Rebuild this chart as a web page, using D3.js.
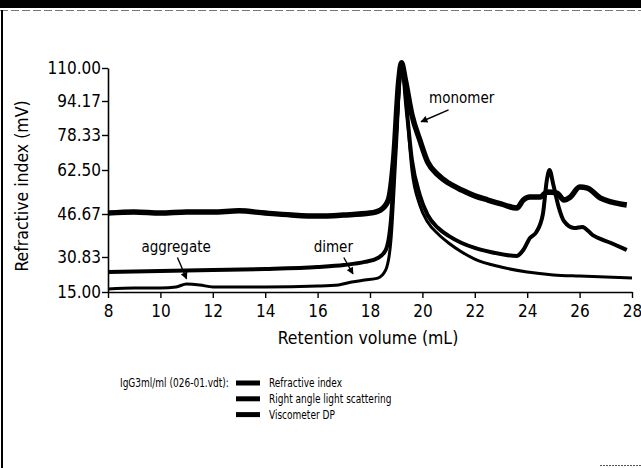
<!DOCTYPE html>
<html>
<head>
<meta charset="utf-8">
<script src="https://cdn.jsdelivr.net/npm/d3@7"></script>
<style>
  body { margin: 0; background: #fff; }
  svg { display: block; font-family: "DejaVu Sans Condensed", "Liberation Sans Narrow", "Open Sans", sans-serif; }
</style>
</head>
<body>
<svg id="drawing_region"></svg>
<script>
// retention volume (mL) / signal (mV)
const visc_x = [8, 9, 10, 11, 12, 13, 14, 15, 16, 17, 18, 18.4, 18.7, 18.9, 19.1, 19.2, 19.35, 19.6, 19.9, 20.2, 20.6, 21, 21.5, 22, 22.5, 23, 23.6, 23.85, 24.1, 24.5, 24.76, 25.14, 25.4, 25.65, 26.0, 26.3, 26.8, 27.2, 27.8];
const visc_y = [47.0, 47.4, 47.0, 47.4, 47.4, 47.8, 47.0, 46.3, 45.9, 46.3, 47.0, 48.1, 51.7, 67.0, 104.2, 112.5, 104.2, 87.7, 76.1, 66.1, 60.7, 57.8, 55.3, 53.2, 51.7, 50.3, 48.8, 51.7, 52.8, 52.8, 54.6, 54.2, 51.7, 52.8, 56.4, 56.0, 52.4, 51.0, 49.9];

const rals_x = [8, 10, 12, 14, 16, 17, 17.8, 18.3, 18.6, 18.8, 19.0, 19.2, 19.4, 19.6, 19.9, 20.2, 20.6, 21, 21.5, 22, 22.6, 23.2, 23.6, 23.85, 24.1, 24.35, 24.6, 24.75, 24.85, 25.0, 25.2, 25.4, 25.8, 26.1, 26.5, 27.2, 27.8];
const rals_y = [24.0, 24.5, 24.9, 25.4, 26.3, 27.2, 28.6, 30.4, 33.4, 44.5, 80.7, 112.5, 90.0, 67.0, 53.5, 46.3, 41.5, 38.6, 36.0, 34.2, 32.7, 31.6, 31.2, 33.4, 37.8, 40.0, 46.7, 58.9, 62.5, 57.1, 49.2, 44.1, 41.5, 41.9, 38.9, 36.0, 33.4];

const ri_x = [8, 9, 10, 10.6, 11, 11.5, 12, 14, 16, 16.8, 17.3, 17.8, 18.3, 18.6, 18.8, 19.0, 19.2, 19.4, 19.6, 19.9, 20.2, 20.6, 21, 21.5, 22, 23, 24, 25, 26, 27, 28];
const ri_y = [16.4, 16.8, 16.8, 17.3, 18.6, 18.2, 17.3, 17.3, 17.7, 18.2, 19.5, 20.4, 21.3, 25.0, 37.1, 71.6, 111.4, 90.0, 62.5, 49.9, 43.7, 39.3, 36.0, 32.7, 29.9, 26.3, 24.0, 22.7, 22.2, 21.8, 21.3];

const y_ticks = [15.00, 30.83, 46.67, 62.50, 78.33, 94.17, 110.00];
const x_ticks = [8, 10, 12, 14, 16, 18, 20, 22, 24, 26, 28];

const legend_title = "IgG3ml/ml (026-01.vdt):";
const legend_names = ["Refractive index", "Right angle light scattering", "Viscometer DP"];

const note_text = ["monomer", "aggregate", "dimer"];
const note_at = [[21.5, 93.2], [10.6, 32.6], [16.6, 32.6]];     // label anchor (mL, mV)
const note_from = [[21.0, 90.0], [10.65, 30.6], [17.0, 30.6]];  // arrow tail
const note_to = [[19.95, 84.5], [11.0, 21.0], [17.35, 23.2]];   // arrow head

const config = {
  width: 641,
  height: 468,
  margin: {top: 68, right: 9, bottom: 176, left: 108}
};

// the scanned axis is not evenly spaced: pixel offset of each y tick from the top
const y_tick_pos = [224, 189, 146, 102, 67, 33, 0];

const svg = d3.select('#drawing_region')
  .attr('width', config.width)
  .attr('height', config.height);

// page frame of the scanned figure
svg.append('rect').attr('x', 0).attr('y', 0).attr('width', config.width).attr('height', 8).attr('fill', '#000');
svg.append('line').attr('x1', 0).attr('x2', config.width).attr('y1', 10.5).attr('y2', 10.5)
  .attr('stroke', '#777').attr('stroke-width', 1).attr('stroke-dasharray', '8,3');
svg.append('line').attr('x1', 2).attr('x2', 2).attr('y1', 10).attr('y2', config.height)
  .attr('stroke', '#000').attr('stroke-width', 2);
svg.append('line').attr('x1', 600).attr('x2', config.width).attr('y1', 465.5).attr('y2', 465.5)
  .attr('stroke', '#555').attr('stroke-width', 1).attr('stroke-dasharray', '2,1');

const inner_width = config.width - config.margin.left - config.margin.right;
const inner_height = config.height - config.margin.top - config.margin.bottom;

const chart = svg.append('g')
  .attr('transform', `translate(${config.margin.left}, ${config.margin.top})`);

const xscale = d3.scaleLinear().domain([8, 28]).range([0, inner_width]);
const yscale = d3.scaleLinear().domain(y_ticks).range(y_tick_pos);

const xaxis = d3.axisBottom(xscale).tickValues(x_ticks).tickSize(6).tickSizeOuter(0).tickFormat(d3.format('d'));
const yaxis = d3.axisLeft(yscale).tickValues(y_ticks).tickSize(6).tickSizeOuter(0).tickFormat(d3.format('.2f'));

const xg = chart.append('g').attr('transform', `translate(0, ${inner_height})`).call(xaxis);
const yg = chart.append('g').call(yaxis);

[xg, yg].forEach(g => {
  g.select('.domain').attr('stroke', '#000').attr('stroke-width', 1.6);
  g.selectAll('.tick line').attr('stroke', '#000').attr('stroke-width', 1.4);
  g.selectAll('.tick text').attr('fill', '#000').style('font-size', '17px')
    .style('font-family', '"DejaVu Sans Condensed", "Liberation Sans Narrow", sans-serif');
});
xg.selectAll('.tick text').attr('dy', '0.92em');
yg.selectAll('.tick text').attr('x', -7);

// traces
const line = d3.line()
  .x(d => xscale(d[0]))
  .y(d => yscale(d[1]))
  .curve(d3.curveMonotoneX);

const series = [
  {xs: ri_x, ys: ri_y, w: 3},
  {xs: rals_x, ys: rals_y, w: 4},
  {xs: visc_x, ys: visc_y, w: 5.5}
];

series.forEach(s => {
  chart.append('path')
    .attr('d', line(s.xs.map((x, i) => [x, s.ys[i]])))
    .attr('fill', 'none')
    .attr('stroke', '#000')
    .attr('stroke-width', s.w)
    .attr('stroke-linejoin', 'round');
});

// annotations
svg.append('defs').append('marker')
  .attr('id', 'head')
  .attr('viewBox', '0 0 10 10')
  .attr('refX', 9).attr('refY', 5)
  .attr('markerWidth', 10).attr('markerHeight', 7)
  .attr('markerUnits', 'userSpaceOnUse')
  .attr('orient', 'auto')
  .append('path').attr('d', 'M0,0 L10,5 L0,10 Z').attr('fill', '#000');

note_text.forEach((t, i) => {
  chart.append('text')
    .attr('x', xscale(note_at[i][0])).attr('y', yscale(note_at[i][1]))
    .attr('text-anchor', 'middle')
    .style('font-size', '15px')
    .text(t);
  chart.append('line')
    .attr('x1', xscale(note_from[i][0])).attr('y1', yscale(note_from[i][1]))
    .attr('x2', xscale(note_to[i][0])).attr('y2', yscale(note_to[i][1]))
    .attr('stroke', '#000').attr('stroke-width', 1.4)
    .attr('marker-end', 'url(#head)');
});

// axis titles
chart.append('text')
  .attr('x', inner_width / 2 - 2)
  .attr('y', inner_height + 52)
  .attr('text-anchor', 'middle')
  .style('font-size', '17.5px')
  .style('font-weight', 500)
  .text('Retention volume (mL)');

svg.append('text')
  .attr('transform', `translate(28, ${config.margin.top + 118}) rotate(-90)`)
  .attr('text-anchor', 'middle')
  .style('font-size', '17.5px')
  .text('Refractive index (mV)');

// legend, condensed like the original type
const squeeze = sel => sel.each(function () {
  const w = this.getComputedTextLength();
  d3.select(this).attr('textLength', w * 0.8).attr('lengthAdjust', 'spacingAndGlyphs');
});

const legend = svg.append('g').attr('transform', 'translate(120, 387)');
legend.append('text').attr('x', 0).attr('y', 0).style('font-size', '12.5px').text(legend_title).call(squeeze);
legend_names.forEach((name, i) => {
  legend.append('line')
    .attr('x1', 116).attr('x2', 140)
    .attr('y1', i * 15.8 - 4).attr('y2', i * 15.8 - 4)
    .attr('stroke', '#000').attr('stroke-width', 5);
  legend.append('text')
    .attr('x', 149)
    .attr('y', i * 15.8)
    .style('font-size', '12.5px')
    .text(name)
    .call(squeeze);
});
</script>
</body>
</html>
